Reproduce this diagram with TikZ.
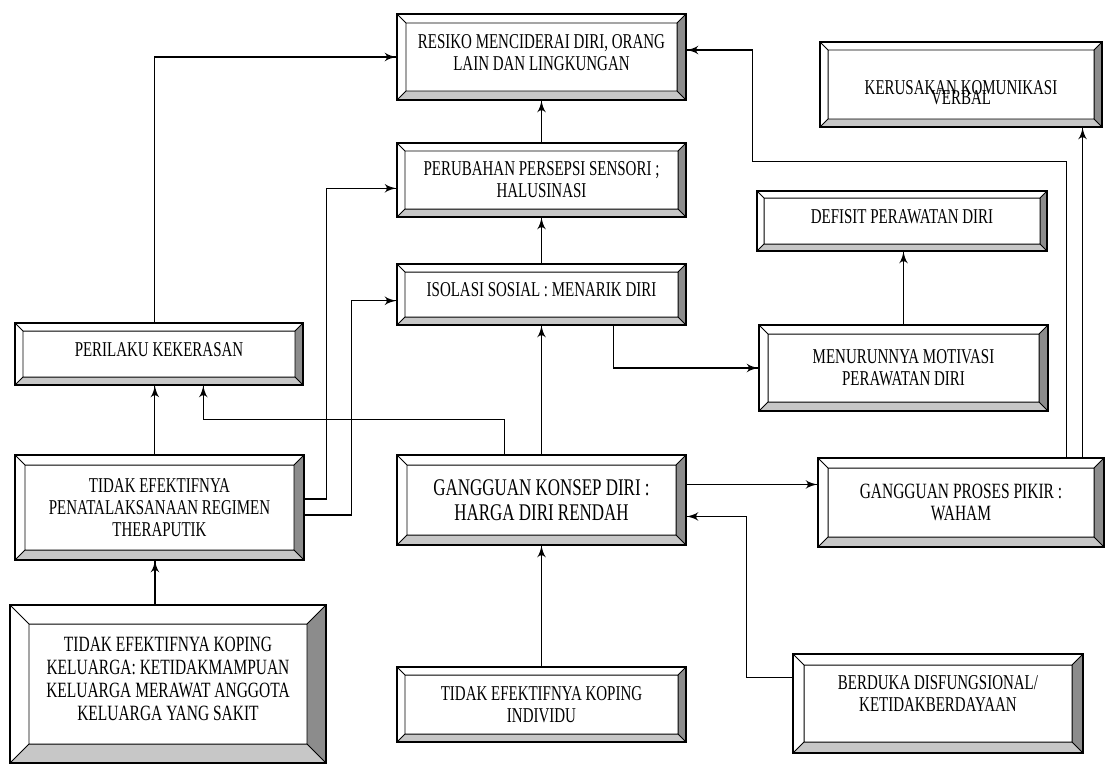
\documentclass[tikz,border=0pt]{standalone}
\usepackage{fontspec}
\setmainfont{Liberation Serif}[FakeStretch=0.71]
\usetikzlibrary{arrows}
\usetikzlibrary{calc}
\usetikzlibrary{decorations.markings}
\colorlet{bevelside}{black!45}
\colorlet{bevelbase}{black!22}
\tikzset{->/.style = {decoration={markings,
                                  mark=at position 1 with {\arrow[scale=1.6]{latex'}}},
                      postaction={decorate}}}
\tikzset{bevelbox/.style = {draw, line width=1pt, fill=white, align=center, inner sep=0pt,
                            font=\fontsize{15}{15.5}\selectfont},
         sz/.style 2 args = {minimum width=#1*0.025cm, minimum height=#2*0.025cm},
         bevel/.style = {path picture={
             \coordinate (bv1) at (path picture bounding box.south west);
             \coordinate (bv2) at (path picture bounding box.south east);
             \coordinate (bv3) at (path picture bounding box.north east);
             \coordinate (bv4) at (path picture bounding box.north west);
             \coordinate (bi1) at ([xshift=#1*0.025cm, yshift=#1*0.025cm]bv1);
             \coordinate (bi2) at ([xshift=-#1*0.025cm, yshift=#1*0.025cm]bv2);
             \coordinate (bi3) at ([xshift=-#1*0.025cm, yshift=-#1*0.025cm]bv3);
             \coordinate (bi4) at ([xshift=#1*0.025cm, yshift=-#1*0.025cm]bv4);
             \fill[bevelside] (bv2) -- (bv3) -- (bi3) -- (bi2) -- cycle;
             \fill[bevelbase] (bv1) -- (bv2) -- (bi2) -- (bi1) -- cycle;
             \draw[line width=0.7pt] (bi1) -- (bi2) -- (bi3) -- (bi4) -- cycle
                 (bv1) -- (bi1) (bv2) -- (bi2) (bv3) -- (bi3) (bv4) -- (bi4);}}}

\begin{document}
\begin{tikzpicture}[x=0.025cm, y=-0.025cm, line width=0.8pt]
    \useasboundingbox (0,0) rectangle (1105,765);
    % boxes
    \node[bevelbox, sz={289}{86}, bevel=9] (resiko) at (541.5,57) {RESIKO MENCIDERAI DIRI, ORANG\\LAIN DAN LINGKUNGAN\\[-9pt]\mbox{}};
    \node[bevelbox, sz={282}{85}, bevel=8] (kerusakan) at (961,84.5) {\mbox{}\\[6.4pt]KERUSAKAN KOMUNIKASI\\[-8.5pt]VERBAL};
    \node[bevelbox, sz={289}{74}, bevel=8] (perubahan) at (541.5,180) {PERUBAHAN PERSEPSI SENSORI ;\\HALUSINASI};
    \node[bevelbox, sz={290}{60}, bevel=7] (defisit) at (902,221) {DEFISIT PERAWATAN DIRI\\[-9pt]\mbox{}};
    \node[bevelbox, sz={289}{61}, bevel=8] (isolasi) at (541.5,294.5) {ISOLASI SOSIAL : MENARIK DIRI\\[-9pt]\mbox{}};
    \node[bevelbox, sz={288}{62}, bevel=8] (perilaku) at (159,354) {PERILAKU KEKERASAN\\[-9pt]\mbox{}};
    \node[bevelbox, sz={289}{86}, bevel=9] (menurunnya) at (903.5,368) {MENURUNNYA MOTIVASI\\PERAWATAN DIRI};
    \node[bevelbox, sz={289}{105}, bevel=10] (penata) at (159.5,507.5) {TIDAK EFEKTIFNYA\\PENATALAKSANAAN REGIMEN\\THERAPUTIK};
    \node[bevelbox, sz={289}{90}, bevel=10, font=\fontsize{17}{17.8}\selectfont] (konsep) at (541.5,500) {GANGGUAN KONSEP DIRI :\\HARGA DIRI RENDAH};
    \node[bevelbox, sz={286}{89}, bevel=10, font=\fontsize{15.5}{15.5}\selectfont] (proses) at (961,502.5) {GANGGUAN PROSES PIKIR :\\WAHAM};
    \node[bevelbox, sz={316}{158}, bevel=19, font=\fontsize{15.5}{16.4}\selectfont] (keluarga) at (168,684) {TIDAK EFEKTIFNYA KOPING\\KELUARGA: KETIDAKMAMPUAN\\KELUARGA MERAWAT ANGGOTA\\KELUARGA YANG SAKIT\\[-9pt]\mbox{}};
    \node[bevelbox, sz={289}{75}, bevel=8] (individu) at (541.5,704.5) {TIDAK EFEKTIFNYA KOPING\\INDIVIDU};
    \node[bevelbox, sz={290}{99}, bevel=11] (berduka) at (938,703.5) {BERDUKA DISFUNGSIONAL/\\KETIDAKBERDAYAAN\\[-1pt]\mbox{}};
    % attachment points
    \coordinate (berdukaL) at ($(berduka.north west)!0.24!(berduka.south west)$);
    \coordinate (konsepR1) at ($(konsep.north east)!0.33!(konsep.south east)$);
    \coordinate (konsepR2) at ($(konsep.north east)!0.68!(konsep.south east)$);
    \coordinate (konsepT) at ($(konsep.north west)!0.374!(konsep.north east)$);
    \coordinate (prosesA) at ($(proses.north west)!0.868!(proses.north east)$);
    \coordinate (prosesB) at ($(proses.north west)!0.923!(proses.north east)$);
    \coordinate (resikoR) at ($(resiko.north east)!0.42!(resiko.south east)$);
    \coordinate (isolasiB) at ($(isolasi.south west)!0.747!(isolasi.south east)$);
    \coordinate (isolasiL) at ($(isolasi.north west)!0.6!(isolasi.south west)$);
    \coordinate (perilakuB) at ($(perilaku.south west)!0.653!(perilaku.south east)$);
    \coordinate (perubahanL) at ($(perubahan.north west)!0.61!(perubahan.south west)$);
    \coordinate (penataT) at ($(penata.north west)!0.484!(penata.north east)$);
    \coordinate (penataR1) at ($(penata.north east)!0.42!(penata.south east)$);
    \coordinate (penataR2) at ($(penata.north east)!0.57!(penata.south east)$);
    \coordinate (keluargaT) at ($(keluarga.north west)!0.459!(keluarga.north east)$);
    % connectors
    \draw [->] (perubahan.north) -- (resiko.south);
    \draw [->] (isolasi.north) -- (perubahan.south);
    \draw [->] (konsep.north) -- (isolasi.south);
    \draw [->] (individu.north) -- (konsep.south);
    \draw [->] (berdukaL) -- ++(-46,0) |- (konsepR2);
    \draw [->] (konsepR1) -- (konsepR1 -| proses.west);
    \draw [->] (prosesA) -- ++(0,-296) -- ++(-314,0) |- (resikoR);
    \draw [->] (prosesB) -- (prosesB |- kerusakan.south);
    \draw [->] (isolasiB) |- (menurunnya.west);
    \draw [->] (menurunnya.north) -- (menurunnya.north |- defisit.south);
    \draw [->] (konsepT) -- ++(0,-35) -| (perilakuB);
    \draw [->] (penataT) -- (penataT |- perilaku.south);
    \draw [->] (penataT |- perilaku.north) |- (resiko.west);
    \draw [->] (penataR1) -- ++(22,0) |- (perubahanL);
    \draw [->] (penataR2) -- ++(47,0) |- (isolasiL);
    \draw [->] (keluargaT) -- (keluargaT |- penata.south);
  \end{tikzpicture}
\end{document}
